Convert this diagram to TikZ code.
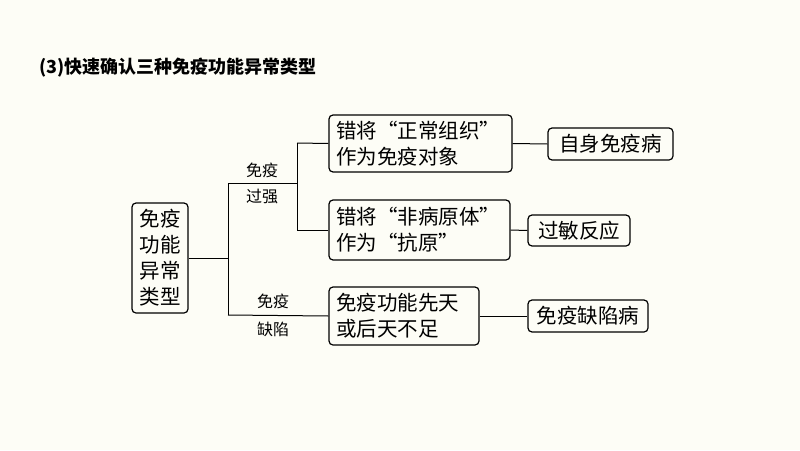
\documentclass[tikz,border=0pt]{standalone}
\usepackage{fontspec}
\setmainfont{Liberation Serif}
\newfontfamily\cjk{Noto Sans CJK SC}
\definecolor{bg}{HTML}{FDFDF6}
\begin{document}
\begin{tikzpicture}[x=1pt,y=-1pt,
  box/.style={draw,line width=1.2pt,rounded corners=4pt,inner xsep=7pt,inner ysep=0pt},
  txt/.style={font=\cjk\fontsize{20.5}{26}\selectfont,align=left},
  lbl/.style={font=\cjk\fontsize{16}{20}\selectfont},
  ln/.style={line width=1pt}]
\fill[bg] (0,0) rectangle (800,450);
\useasboundingbox (0,0) rectangle (800,450);
\node[anchor=west,font=\cjk\bfseries\fontsize{18}{22}\selectfont] (title) at (36,68) {(3)快速确认三种免疫功能异常类型};
\node[box,minimum width=56pt,minimum height=110pt,txt,align=center,inner xsep=0pt] (root) at (160,258) {免疫\\功能\\异常\\类型};
\node[box,minimum height=57pt,txt,text width=169pt] (b1) at (420.5,143.5) {错将“正常组织”\\作为免疫对象};
\node[box,minimum height=60pt,txt,text width=167pt] (b2) at (419.5,230) {错将“非病原体”\\作为“抗原”};
\node[box,minimum height=58pt,txt,text width=136pt] (b3) at (404,316) {免疫功能先天\\或后天不足};
\node[box,minimum width=125pt,minimum height=32pt,txt] (r1) at (610.5,144) {自身免疫病};
\node[box,minimum width=102pt,minimum height=31pt,txt] (r2) at (579,230.5) {过敏反应};
\node[box,minimum width=120pt,minimum height=32pt,txt] (r3) at (588,316) {免疫缺陷病};
\coordinate (j0) at (228,258);
\coordinate (j1) at (228,183);
\coordinate (j2) at (228,315);
\coordinate (k0) at (297,183);
\coordinate (k1) at (297,143);
\coordinate (k2) at (297,230);
\draw[ln] (root.east) -- (j0);
\draw[ln] (j1) -- (j2);
\draw[ln] (j1) -- (k0);
\draw[ln] (k1) -- (k2);
\draw[ln] (k1) -- (b1.west);
\draw[ln] (k2) -- (b2.west);
\draw[ln] (j2) -- (b3.west);
\draw[ln] (b1.east) -- (r1.west);
\draw[ln] (b2.east) -- (r2.west);
\draw[ln] (b3.east) -- (r3.west);
\node[lbl] (l1) at (262,170) {免疫};
\node[lbl] (l2) at (262,197) {过强};
\node[lbl] (l3) at (273,301) {免疫};
\node[lbl] (l4) at (273,329) {缺陷};
\end{tikzpicture}
\end{document}
